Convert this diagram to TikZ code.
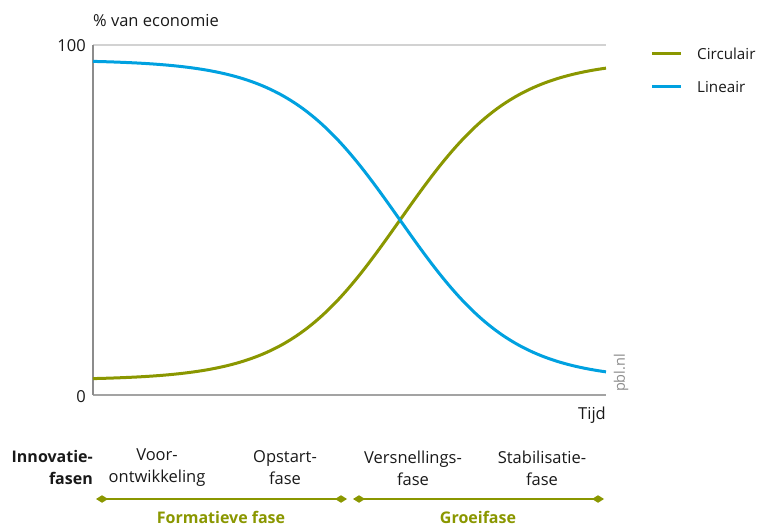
\documentclass[tikz,border=0pt]{standalone}
\usepackage{fontspec}
\setmainfont{Open Sans}
\usetikzlibrary{arrows.meta}
\definecolor{olive}{RGB}{138,151,0}
\definecolor{lblue}{RGB}{0,161,224}
\definecolor{axgrey}{RGB}{140,140,140}
\definecolor{gridgrey}{RGB}{210,210,210}
\definecolor{txt}{RGB}{25,25,25}
\tikzset{
  lbl/.style={font=\fontsize{16.5}{20}\selectfont, text=txt, inner sep=0pt},
  legendlbl/.style={lbl, font=\fontsize{15.2}{18}\selectfont},
  phase/.style={lbl, align=center, font=\fontsize{16.5}{22}\selectfont},
  curve/.style={line width=3pt},
  phasearrow/.style={draw=olive, line width=2.8pt, {Turned Square[length=12pt,width=7.5pt]}-{Turned Square[length=12pt,width=7.5pt]}},
  phasename/.style={lbl, font=\fontsize{16}{20}\selectfont\bfseries, text=olive}
}
\begin{document}
\begin{tikzpicture}[x=1pt,y=-1pt]
\useasboundingbox (0,0) rectangle (758,526);
% axes
\draw[gridgrey, line width=1.5pt] (93,45) -- (606,45);
\draw[axgrey!80, line width=1.5pt] (93,395) -- (606,395);
\draw[axgrey, line width=1.5pt] (93,45) -- (93,395);
% labels
\node[lbl, anchor=base west] (yl) at (93,27) {\% van economie};
\node[lbl, anchor=east] (y100) at (86,46) {100};
\node[lbl, anchor=east] (y0) at (86,397) {0};
\node[lbl, anchor=east] (tijd) at (606,415) {Tijd};
\node[lbl, rotate=90, text=axgrey, font=\fontsize{14.5}{16}\selectfont] (pbl) at (621,373) {pbl.nl};
% curves
\draw[curve, olive] plot[domain=93:606, samples=120, smooth] (\x, {220-160*tanh(0.00885*(\x-400))});
\draw[curve, lblue] plot[domain=93:606, samples=120, smooth] (\x, {220+160*tanh(0.00885*(\x-400))});
% legend
\coordinate (lc1) at (652,54); \coordinate (lc2) at (681,54);
\coordinate (lb1) at (652,87); \coordinate (lb2) at (681,87);
\draw[curve, olive] (lc1) -- (lc2);
\draw[curve, lblue] (lb1) -- (lb2);
\node[legendlbl, anchor=west] (circ) at (697,54) {Circulair};
\node[legendlbl, anchor=west] (lin) at (697,87) {Lineair};
% phases
\node[lbl, anchor=east, align=right, font=\fontsize{16}{22}\selectfont\bfseries] (innov) at (93,468) {Innovatie-\\fasen};
\node[phase] (p1) at (157,468) {Voor-\\ontwikkeling};
\node[phase] (p2) at (285,468) {Opstart-\\fase};
\node[phase] (p3) at (413,468) {Versnellings-\\fase};
\node[phase] (p4) at (542,468) {Stabilisatie-\\fase};
\coordinate (fa) at (96,499); \coordinate (fb) at (347,499);
\coordinate (ga) at (353,499); \coordinate (gb) at (604,499);
\draw[phasearrow] (fa) -- (fb);
\draw[phasearrow] (ga) -- (gb);
\node[phasename, anchor=base] (form) at (221,523) {Formatieve fase};
\node[phasename, anchor=base] (groei) at (478,523) {Groeifase};
\end{tikzpicture}
\end{document}
